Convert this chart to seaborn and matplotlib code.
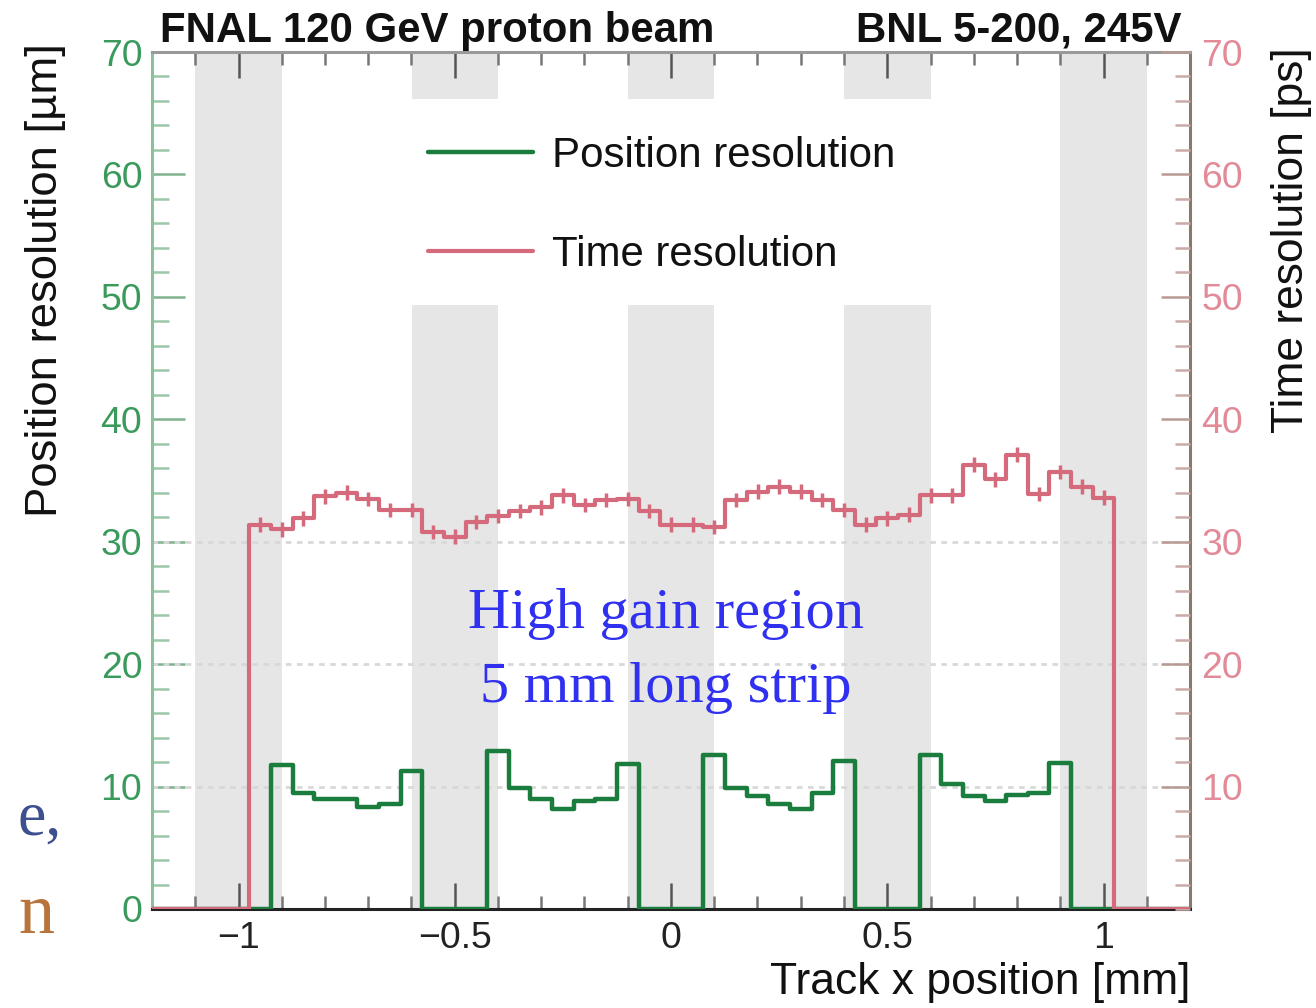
import numpy as np
import matplotlib
matplotlib.use("Agg")
import matplotlib.pyplot as plt
from matplotlib import font_manager as fm
from matplotlib.ticker import MultipleLocator
from matplotlib.patches import Rectangle
import seaborn as sns

# ---------------- data ----------------
bin_centers = [-0.95, -0.90, -0.85, -0.80, -0.75, -0.70, -0.65, -0.60, -0.55, -0.50,
               -0.45, -0.40, -0.35, -0.30, -0.25, -0.20, -0.15, -0.10, -0.05, 0.00,
               0.05, 0.10, 0.15, 0.20, 0.25, 0.30, 0.35, 0.40, 0.45, 0.50,
               0.55, 0.60, 0.65, 0.70, 0.75, 0.80, 0.85, 0.90, 0.95, 1.00]
bin_width = 0.05

position_res = [0, 11.8, 9.5, 9.0, 9.0, 8.3, 8.6, 11.3, 0, 0,
                0, 12.9, 9.9, 9.0, 8.2, 8.85, 9.0, 11.85, 0, 0,
                0, 12.6, 9.9, 9.2, 8.6, 8.2, 9.45, 12.1, 0, 0,
                0, 12.6, 10.2, 9.2, 8.8, 9.3, 9.5, 11.95, 0, 0]

time_res = [31.4, 31.0, 31.9, 33.7, 34.0, 33.5, 32.6, 32.6, 30.8, 30.4,
            31.6, 32.1, 32.5, 32.8, 33.8, 33.0, 33.4, 33.5, 32.5, 31.4,
            31.4, 31.2, 33.4, 34.1, 34.5, 34.1, 33.4, 32.6, 31.4, 31.9,
            32.2, 33.8, 33.8, 36.3, 35.1, 37.1, 33.9, 35.7, 34.5, 33.6]
time_err = [0.6] * len(time_res)

metal_bands = [(-1.1, -0.9), (-0.6, -0.4), (-0.1, 0.1), (0.4, 0.6), (0.9, 1.1)]

x_ticks = [-1, -0.5, 0, 0.5, 1]
x_tick_labels = ["\u22121", "\u22120.5", "0", "0.5", "1"]
y_ticks_left = [0, 10, 20, 30, 40, 50, 60, 70]
y_ticks_right = [10, 20, 30, 40, 50, 60, 70]

title_left = "FNAL 120 GeV proton beam"
title_right = "BNL 5-200, 245V"
xlabel = "Track x position [mm]"
ylabel_left = "Position resolution [\u00b5m]"
ylabel_right = "Time resolution [ps]"
legend_labels = ["Position resolution", "Time resolution"]
note_lines = ["High gain region", "5 mm long strip"]

# ---------------- style ----------------
sns.set_theme(style="white")
avail = {f.name for f in fm.fontManager.ttflist}
if "Liberation Sans Narrow" in avail:
    SANS, k = "Liberation Sans Narrow", 1.0
else:
    SANS, k = "Liberation Sans", 0.84
plt.rcParams["font.family"] = [SANS, "DejaVu Sans"]
plt.rcParams["axes.unicode_minus"] = True

GREEN = "#1b7d3d"
RED = "#d46a7c"
GREEN_TXT = "#3a9a5c"
RED_TXT = "#e38a99"

fig = plt.figure(figsize=(13.16, 10.08), dpi=100)
ax = fig.add_axes([152 / 1316, 1 - 909 / 1008, (1190 - 152) / 1316, (909 - 52) / 1008])
ax2 = ax.twinx()

XMIN, XMAX = -1.2, 1.2
half = bin_width / 2
edges = [XMIN] + [c - half for c in bin_centers] + [bin_centers[-1] + half, XMAX]
centers_ext = [(XMIN + bin_centers[0] - half) / 2] + bin_centers + [(XMAX + bin_centers[-1] + half) / 2]
pos_ext = [0] + position_res + [0]
time_ext = [0] + time_res + [0]

# gray bands
for a, b in metal_bands:
    ax.axvspan(a, b, color="#e6e6e6", lw=0, zorder=0.5)
# dotted reference lines
for yv in [10, 20, 30]:
    ax.axhline(yv, color="#d8d8d8", lw=2, ls=(0, (2, 2)), zorder=0.8)
# white legend background covering bands
ax.add_patch(Rectangle((-0.63, 49.3), 1.27, 16.9, facecolor="white", edgecolor="none", zorder=0.9))

sns.histplot(x=centers_ext, weights=pos_ext, bins=edges, element="step", fill=False,
             color=GREEN, linewidth=3.2, ax=ax, zorder=3)
green_line = ax.lines[-1]

sns.histplot(x=centers_ext, weights=time_ext, bins=edges, element="step", fill=False,
             color=RED, linewidth=3.0, ax=ax2, zorder=3)
red_line = ax2.lines[-1]
ax2.errorbar(bin_centers, time_res, yerr=time_err, fmt="none", ecolor=RED, elinewidth=2.5,
             capsize=0, zorder=3)

for a in (ax, ax2):
    a.set_xlim(XMIN, XMAX)
    a.set_ylim(0, 70)
    a.set_ylabel("")
    a.set_xlabel("")
    a.grid(False)

ax.set_zorder(1)
ax2.set_zorder(2)
ax2.patch.set_visible(False)
ax.patch.set_facecolor("white")

# spines
for s in ax2.spines.values():
    s.set_visible(False)
ax.spines["left"].set_color("#8fbf9f")
ax.spines["bottom"].set_color("#222222")
ax.spines["top"].set_color("#9a9a9a")
ax.spines["right"].set_color("#8b7868")
for s in ax.spines.values():
    s.set_linewidth(2.2)

# ticks
ax.set_xticks(x_ticks)
ax.set_xticklabels(x_tick_labels)
ax.xaxis.set_minor_locator(MultipleLocator(0.1))
ax.set_yticks(y_ticks_left)
ax.yaxis.set_minor_locator(MultipleLocator(2))
ax.tick_params(axis="x", which="major", direction="in", length=19, width=1.8, top=True,
               bottom=True, color="#555555", labelsize=32 * k, pad=9, labelcolor="#222222")
ax.tick_params(axis="x", which="minor", direction="in", length=9.5, width=1.8, top=True,
               bottom=True, color="#777777")
ax.tick_params(axis="y", which="major", direction="in", length=24, width=1.8, left=True,
               right=False, color="#7fb38f", labelsize=32 * k, pad=7, labelcolor=GREEN_TXT)
ax.tick_params(axis="y", which="minor", direction="in", length=12, width=1.8, left=True,
               right=False, color="#9cc8a8")

ax2.set_yticks(y_ticks_right)
ax2.yaxis.set_minor_locator(MultipleLocator(2))
ax2.tick_params(axis="y", which="major", direction="in", length=21, width=1.8, right=True,
                color="#b89a95", labelsize=32 * k, pad=8, labelcolor=RED_TXT)
ax2.tick_params(axis="y", which="minor", direction="in", length=11, width=1.8, right=True,
                color="#c9aaa8")
ax2.tick_params(axis="x", which="both", bottom=False, top=False, labelbottom=False)

# labels
ax.set_xlabel(xlabel, fontsize=38 * k, loc="right", color="#111111")
ax.xaxis.set_label_coords(1.0, -0.062)
ax.set_ylabel(ylabel_left, fontsize=39 * k, loc="top", color="#111111")
ax.yaxis.set_label_coords(-0.083, 1.01)
ax2.set_ylabel(ylabel_right, fontsize=38 * k, loc="top", color="#111111")
ax2.yaxis.set_label_coords(1.078, 1.005)

fig.text(160 / 1316, 1 - 42 / 1008, title_left, fontsize=36 * k, fontweight="bold",
         ha="left", va="baseline", color="#111111")
fig.text(1182 / 1316, 1 - 42 / 1008, title_right, fontsize=36 * k, fontweight="bold",
         ha="right", va="baseline", color="#111111")

# legend
leg = ax2.legend([green_line, red_line], legend_labels, loc="upper left",
                 bbox_to_anchor=((428 - 152) / 1038, (909 - 136) / 857),
                 frameon=False, fontsize=36 * k, handlelength=2.1 / k, handletextpad=0.45,
                 labelspacing=1.4, borderpad=0, borderaxespad=0)
for t in leg.get_texts():
    t.set_color("#111111")

# annotation text
for i, line in enumerate(note_lines):
    ax2.text(0.495, (909 - 628 - 74 * i) / 857, line, transform=ax.transAxes,
             fontsize=42, family=["Liberation Serif", "DejaVu Serif"], color="#3030f0",
             ha="center", va="baseline", zorder=5)

# stray margin characters from the source page
fig.text(18 / 1316, 1 - 835 / 1008, "e,", fontsize=46, family=["Liberation Serif", "DejaVu Serif"],
         color="#3d4f8f", ha="left", va="baseline")
fig.text(18 / 1316, 1 - 933 / 1008, "n", fontsize=52, family=["Liberation Serif", "DejaVu Serif"],
         color="#b8743a", ha="left", va="baseline")

fig.savefig("out.png", dpi=100)
